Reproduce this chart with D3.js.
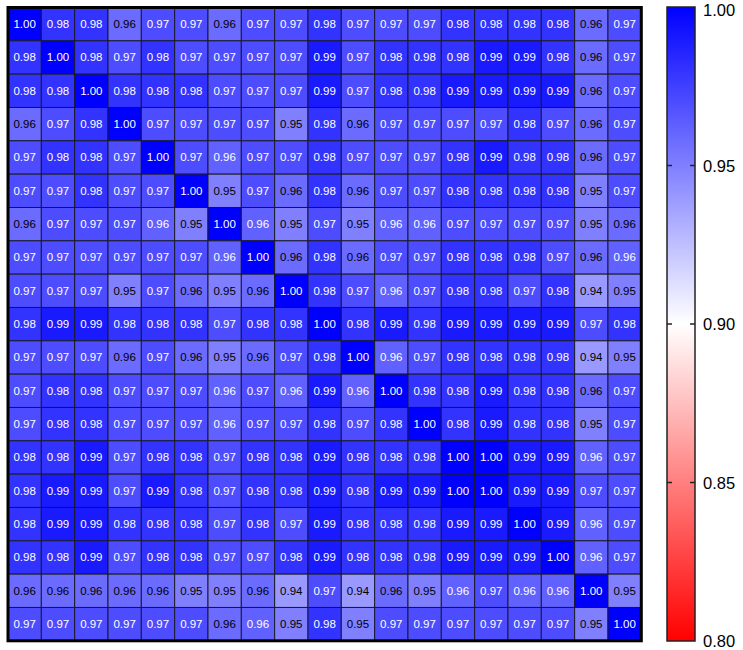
<!DOCTYPE html>
<html>
<head>
<meta charset="utf-8">
<script src="https://cdn.jsdelivr.net/npm/d3@7"></script>
<style>
  html, body { margin: 0; padding: 0; background: #fff; }
  svg { display: block; font-family: "Liberation Sans", Arial, sans-serif; }
</style>
</head>
<body>
<svg id="chart" width="743" height="650"></svg>
<script>
// Pairwise correlation matrix (19 x 19), row by row
const row01 = [1.00,0.98,0.98,0.958,0.97,0.97,0.958,0.97,0.97,0.98,0.97,0.97,0.97,0.98,0.98,0.98,0.98,0.958,0.97];
const row02 = [0.98,1.00,0.98,0.97,0.98,0.97,0.97,0.97,0.97,0.99,0.97,0.98,0.98,0.98,0.99,0.99,0.98,0.958,0.97];
const row03 = [0.98,0.98,1.00,0.98,0.98,0.98,0.97,0.97,0.97,0.99,0.97,0.98,0.98,0.99,0.99,0.99,0.99,0.958,0.97];
const row04 = [0.958,0.97,0.98,1.00,0.97,0.97,0.97,0.97,0.95,0.98,0.958,0.97,0.97,0.97,0.97,0.98,0.97,0.958,0.97];
const row05 = [0.97,0.98,0.98,0.97,1.00,0.97,0.962,0.97,0.97,0.98,0.97,0.97,0.97,0.98,0.99,0.98,0.98,0.958,0.97];
const row06 = [0.97,0.97,0.98,0.97,0.97,1.00,0.95,0.97,0.958,0.98,0.958,0.97,0.97,0.98,0.98,0.98,0.98,0.95,0.97];
const row07 = [0.958,0.97,0.97,0.97,0.962,0.95,1.00,0.962,0.95,0.97,0.95,0.962,0.962,0.97,0.97,0.97,0.97,0.95,0.958];
const row08 = [0.97,0.97,0.97,0.97,0.97,0.97,0.962,1.00,0.958,0.98,0.958,0.97,0.97,0.98,0.98,0.98,0.97,0.958,0.962];
const row09 = [0.97,0.97,0.97,0.95,0.97,0.958,0.95,0.958,1.00,0.98,0.97,0.962,0.97,0.98,0.98,0.97,0.98,0.94,0.95];
const row10 = [0.98,0.99,0.99,0.98,0.98,0.98,0.97,0.98,0.98,1.00,0.98,0.99,0.98,0.99,0.99,0.99,0.99,0.97,0.98];
const row11 = [0.97,0.97,0.97,0.958,0.97,0.958,0.95,0.958,0.97,0.98,1.00,0.962,0.97,0.98,0.98,0.98,0.98,0.94,0.95];
const row12 = [0.97,0.98,0.98,0.97,0.97,0.97,0.962,0.97,0.962,0.99,0.962,1.00,0.98,0.98,0.99,0.98,0.98,0.958,0.97];
const row13 = [0.97,0.98,0.98,0.97,0.97,0.97,0.962,0.97,0.97,0.98,0.97,0.98,1.00,0.98,0.99,0.98,0.98,0.95,0.97];
const row14 = [0.98,0.98,0.99,0.97,0.98,0.98,0.97,0.98,0.98,0.99,0.98,0.98,0.98,1.00,1.00,0.99,0.99,0.962,0.97];
const row15 = [0.98,0.99,0.99,0.97,0.99,0.98,0.97,0.98,0.98,0.99,0.98,0.99,0.99,1.00,1.00,0.99,0.99,0.97,0.97];
const row16 = [0.98,0.99,0.99,0.98,0.98,0.98,0.97,0.98,0.97,0.99,0.98,0.98,0.98,0.99,0.99,1.00,0.99,0.962,0.97];
const row17 = [0.98,0.98,0.99,0.97,0.98,0.98,0.97,0.97,0.98,0.99,0.98,0.98,0.98,0.99,0.99,0.99,1.00,0.962,0.97];
const row18 = [0.958,0.958,0.958,0.958,0.958,0.95,0.95,0.958,0.94,0.97,0.94,0.958,0.95,0.962,0.97,0.962,0.962,1.00,0.95];
const row19 = [0.97,0.97,0.97,0.97,0.97,0.97,0.958,0.962,0.95,0.98,0.95,0.97,0.97,0.97,0.97,0.97,0.97,0.95,1.00];

const matrix = [row01,row02,row03,row04,row05,row06,row07,row08,row09,row10,
                row11,row12,row13,row14,row15,row16,row17,row18,row19];

// Colour legend
const legendStops = [0.80, 0.90, 1.00];
const legendColors = ["#ff0000", "#ffffff", "#0000ff"];
const legendTicks = [0.80, 0.85, 0.90, 0.95, 1.00];

const n = matrix.length;
const cells = [];
matrix.forEach((row, r) => row.forEach((v, c) => cells.push({ r, c, v })));

const svg = d3.select("#chart");

const x = d3.scaleBand().domain(d3.range(n)).range([8, 641.3]);
const y = d3.scaleBand().domain(d3.range(n)).range([7.5, 640.8]);
const color = d3.scaleLinear().domain(legendStops).range(legendColors).clamp(true);
const fmt = d3.format(".2f");

// Heatmap cells
const g = svg.append("g");
g.selectAll("rect.cell")
  .data(cells)
  .join("rect")
  .attr("class", "cell")
  .attr("x", d => x(d.c))
  .attr("y", d => y(d.r))
  .attr("width", x.bandwidth())
  .attr("height", y.bandwidth())
  .attr("fill", d => color(d.v))
  .attr("stroke", "#1a1a2a")
  .attr("stroke-width", 1);

g.selectAll("text.val")
  .data(cells)
  .join("text")
  .attr("class", "val")
  .attr("x", d => x(d.c) + x.bandwidth() / 2)
  .attr("y", d => y(d.r) + y.bandwidth() / 2)
  .attr("text-anchor", "middle")
  .attr("dominant-baseline", "central")
  .attr("font-size", 11.5)
  .attr("fill", d => d.v < 0.96 ? "#000" : "#fff")
  .text(d => fmt(d.v));

// Outer frame
g.append("rect")
  .attr("x", x.range()[0])
  .attr("y", y.range()[0])
  .attr("width", x.range()[1] - x.range()[0])
  .attr("height", y.range()[1] - y.range()[0])
  .attr("fill", "none")
  .attr("stroke", "#000")
  .attr("stroke-width", 3);

// Colour bar
const barX = 667, barW = 28;
const ly = d3.scaleLinear().domain([0.80, 1.00]).range([641, 7]);

const defs = svg.append("defs");
const grad = defs.append("linearGradient")
  .attr("id", "bar-grad")
  .attr("x1", 0).attr("y1", 1).attr("x2", 0).attr("y2", 0);
legendStops.forEach((s, i) => {
  grad.append("stop")
    .attr("offset", (s - 0.80) / 0.20)
    .attr("stop-color", legendColors[i]);
});

svg.append("rect")
  .attr("x", barX)
  .attr("y", ly(1.00))
  .attr("width", barW)
  .attr("height", ly(0.80) - ly(1.00))
  .attr("fill", "url(#bar-grad)")
  .attr("stroke", "#222")
  .attr("stroke-width", 1.5);

const tickG = svg.append("g");
legendTicks.forEach(t => {
  const ty = ly(t);
  if (t > 0.80 && t < 1.00) {
    tickG.append("line")
      .attr("x1", barX).attr("x2", barX + 5)
      .attr("y1", ty).attr("y2", ty)
      .attr("stroke", "#222").attr("stroke-width", 1.5);
    tickG.append("line")
      .attr("x1", barX + barW - 5).attr("x2", barX + barW)
      .attr("y1", ty).attr("y2", ty)
      .attr("stroke", "#222").attr("stroke-width", 1.5);
  }
  // keep the top label inside the canvas
  tickG.append("text")
    .attr("x", barX + barW + 8)
    .attr("y", Math.max(ty, 9.5))
    .attr("dominant-baseline", "central")
    .attr("font-size", 16.5)
    .attr("fill", "#000")
    .text(fmt(t));
});
</script>
</body>
</html>
